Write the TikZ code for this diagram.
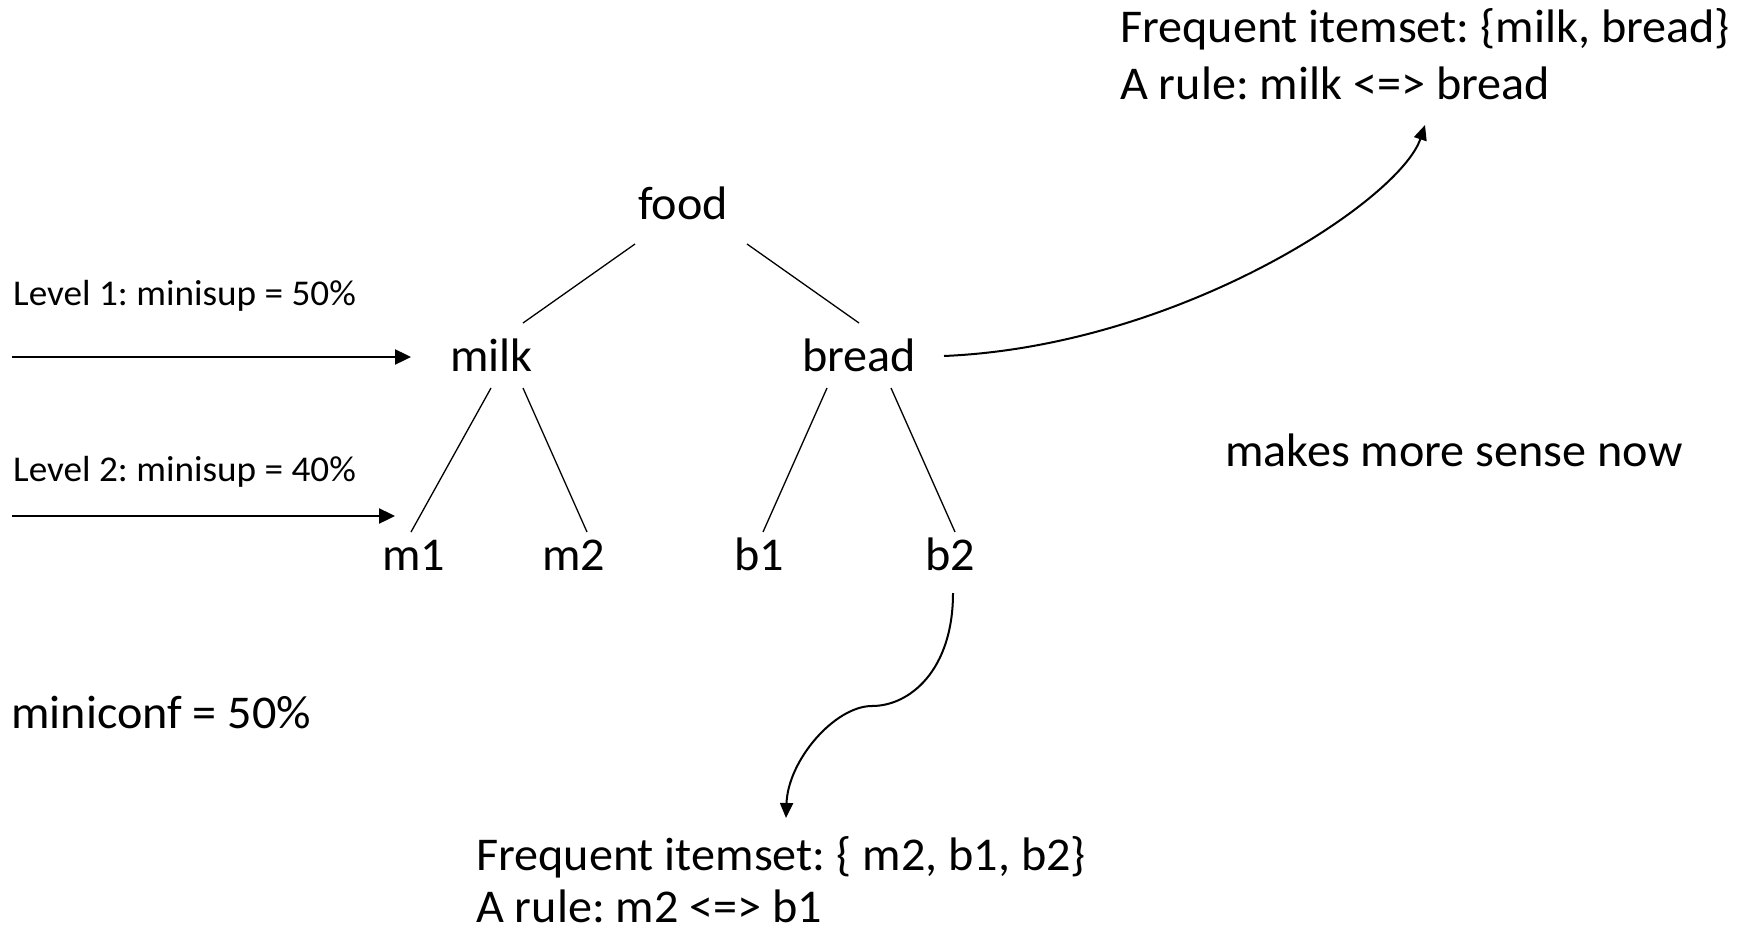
\documentclass[tikz,border=0pt]{standalone}
\usepackage{fontspec}
\setmainfont[FakeStretch=1.025]{Carlito}
\usetikzlibrary{arrows.meta}
\frenchspacing
\begin{document}
\begin{tikzpicture}[x=1pt,y=-1pt,
  lbl/.style={anchor=base west, inner sep=0pt, font=\fontsize{47}{56}\selectfont},
  small/.style={anchor=base west, inner sep=0pt, font=\fontsize{36.3}{44}\selectfont},
  edge/.style={line width=1.3pt},
  lvlarrow/.style={line width=2.4pt, -{Triangle[length=16pt,width=15pt]}},
  curvearrow/.style={line width=2pt, -{Triangle[length=15pt,width=13pt]}}]
\useasboundingbox (0,0) rectangle (1742,936);

% result texts
\node[lbl] (fis1a) at (1120,43) {Frequent itemset: \{milk, bread\}};
\node[lbl] (fis1b) at (1120,100) {A rule: milk <=> bread};
\node[lbl] (fis2a) at (476,870) {Frequent itemset: \{ m2, b1, b2\}};
\node[lbl] (fis2b) at (476,922) {A rule: m2 <=> b1};
\node[lbl] (note) at (1225,466) {makes more sense now};
\node[lbl] (conf) at (11,728) {miniconf = 50\%};

% level thresholds
\node[small] (lev1) at (13,305) {Level 1: minisup = 50\%};
\node[small] (lev2) at (13,481) {Level 2: minisup = 40\%};

% concept hierarchy
\node[lbl] (food)  at (638,219) {food};
\node[lbl] (milk)  at (450,371) {milk};
\node[lbl] (bread) at (802,371) {bread};
\node[lbl] (m1) at (382,570) {m1};
\node[lbl] (m2) at (542,570) {m2};
\node[lbl] (b1) at (734,570) {b1};
\node[lbl] (b2) at (925,570) {b2};

\draw[edge] ([shift={(-3,25)}]food.base west) -- ([shift={(73,-48)}]milk.base west);
\draw[edge] ([shift={(109,25)}]food.base west) -- ([shift={(57,-48)}]bread.base west);
\draw[edge] ([shift={(41,17)}]milk.base west) -- ([shift={(29,-38)}]m1.base west);
\draw[edge] ([shift={(73,17)}]milk.base west) -- ([shift={(45,-38)}]m2.base west);
\draw[edge] ([shift={(25,17)}]bread.base west) -- ([shift={(29,-38)}]b1.base west);
\draw[edge] ([shift={(89,17)}]bread.base west) -- ([shift={(30,-38)}]b2.base west);

% level arrows
\coordinate (l1) at (12,357);
\coordinate (l2) at (12,516);
\draw[lvlarrow] (l1) -- ([shift={(-39,-14)}]milk.base west);
\draw[lvlarrow] (l2) -- ([shift={(13,-54)}]m1.base west);

% curved arrows to the results
\draw[curvearrow] ([shift={(142,-15)}]bread.base west)
  .. controls (1180,346) and (1400,200) .. ([shift={(305,25)}]fis1b.base west);
\coordinate (bend) at (872,706);
\draw[curvearrow] ([shift={(28,23)}]b2.base west)
  .. controls (953,670) and (910,706) .. (bend)
  .. controls (835,706) and (788,760) .. ([shift={(310,-52)}]fis2a.base west);
\end{tikzpicture}
\end{document}
